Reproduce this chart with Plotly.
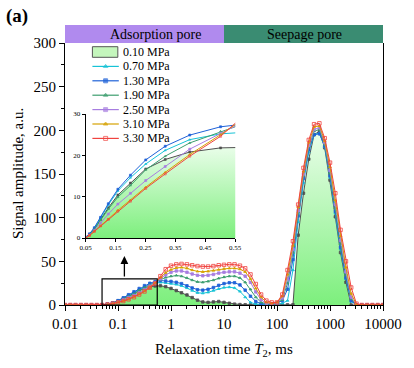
import math
import plotly.graph_objects as go

# ---------------- data ----------------
T2 = [0.01, 0.0126, 0.0158, 0.02, 0.0251, 0.0316, 0.0398, 0.0501, 0.0631, 0.0794,
      0.1, 0.126, 0.158, 0.2, 0.251, 0.316, 0.398, 0.501, 0.631, 0.794,
      1, 1.26, 1.58, 2, 2.51, 3.16, 3.98, 5.01, 6.31, 7.94,
      10, 12.6, 15.8, 20, 25.1, 31.6, 39.8, 50.1, 63.1, 79.4,
      100, 126, 158, 200, 251, 316, 398, 501, 631, 794,
      1000, 1260, 1580, 2000, 2510, 3160, 3980, 5010, 6310, 7940,
      10000]

p010 = [0, 0, 0, 0, 0, 0, 0,
        0, 0.9, 2.2, 4.5, 7.3, 10.4, 13.3, 16.7, 19.0, 20.8, 21.8,
        22.0, 21.0, 19.0, 16.5, 14.0, 11.5, 8.5, 5.5, 3.5, 3.0,
        3.5, 4.0, 3.0, 2.0, 1.0, 0.5, 0.3, 0.2, 0.2, 0.2,
        0.2, 0.2, 0.2, 0.2, 0.2, 0.3, 80, 128, 167, 195,
        199, 180, 143, 101, 60, 26, 0, 0, 0, 0, 0, 0, 0]
p070 = [0, 0, 0, 0, 0, 0, 0,
        0.1, 0.9, 2.4, 4.8, 8.0, 11.4, 14.6, 17.9, 21.2, 23.8, 25.2,
        25.8, 25.3, 24.5, 23.5, 22.0, 19.5, 16.5, 14.0, 13.5, 14.5,
        16.5, 18.5, 20.0, 20.5, 19.5, 15.5, 9.0, 3.0, 1.0, 0.5,
        0.5, 0.5, 1.0, 2.0, 5.0, 40, 95, 140, 175, 195,
        197, 181, 146, 105, 64, 30, 4, 0, 0, 0, 0, 0, 0]
p130 = [0, 0, 0, 0, 0, 0, 0,
        0.2, 1.0, 2.5, 5.0, 8.3, 11.8, 15.2, 18.9, 22.2, 24.9, 26.9,
        28.0, 27.5, 27.0, 26.0, 24.5, 22.0, 19.5, 17.5, 17.0, 18.0,
        20.0, 22.5, 24.5, 25.5, 25.5, 23.0, 17.0, 10.0, 4.0, 1.5,
        1.0, 1.0, 2.0, 5.0, 18, 52, 102, 145, 178, 195,
        196, 182, 148, 107, 66, 31, 5, 0, 0, 0, 0, 0, 0]
p190 = [0, 0, 0, 0, 0, 0, 0,
        0, 0.8, 2.1, 4.3, 7.0, 9.9, 12.7, 16.5, 19.8, 23.0, 25.8,
        29.0, 31.5, 33.0, 33.8, 33.0, 31.0, 28.5, 26.5, 26.0, 27.0,
        28.5, 30.5, 32.0, 33.0, 33.0, 31.0, 26.0, 18.0, 9.0, 3.0,
        1.5, 1.0, 2.0, 6.0, 25, 60, 106, 148, 181, 199,
        201, 184, 151, 111, 70, 35, 7, 0, 0, 0, 0, 0, 0]
p250 = [0, 0, 0, 0, 0, 0, 0,
        0, 0.7, 1.8, 3.6, 5.8, 8.2, 10.8, 13.9, 17.3, 21.5, 25.3,
        30.0, 34.5, 37.5, 39.0, 39.0, 37.5, 35.5, 34.0, 33.5, 34.0,
        35.0, 36.5, 37.5, 38.0, 38.0, 36.5, 33.0, 26.0, 15.0, 6.0,
        2.0, 1.5, 2.5, 8.0, 30, 64, 108, 150, 183, 201,
        203, 186, 154, 115, 74, 38, 9, 0, 0, 0, 0, 0, 0]
p310 = [0, 0, 0, 0, 0, 0, 0,
        0, 0.6, 1.6, 2.9, 4.6, 6.7, 9.2, 12.3, 15.9, 20.2, 25.0,
        31.5, 37.0, 40.5, 42.5, 43.0, 42.0, 40.0, 38.5, 38.0, 38.5,
        39.5, 40.5, 41.5, 42.0, 42.0, 41.0, 38.0, 30.0, 19.0, 9.0,
        3.0, 2.0, 3.0, 10.0, 35, 68, 112, 153, 186, 204,
        205, 188, 158, 120, 79, 43, 13, 0.5, 0, 0, 0, 0, 0]
p330 = [0, 0, 0, 0, 0, 0, 0,
        0, 0.6, 1.6, 2.9, 4.5, 6.5, 8.9, 12.0, 15.5, 19.8, 24.6,
        33.0, 41.0, 45.0, 46.5, 47.0, 46.5, 45.5, 44.5, 44.0, 44.0,
        44.5, 45.5, 46.0, 46.5, 46.5, 45.0, 42.0, 35.0, 24.0, 12.0,
        5.0, 3.0, 3.0, 12.0, 40, 73, 115, 157, 189, 207,
        208, 191, 163, 128, 86, 50, 20, 1.5, 0, 0, 0, 0, 0]

names = ["0.10 MPa", "0.70 MPa", "1.30 MPa", "1.90 MPa", "2.50 MPa", "3.10 MPa", "3.30 MPa"]
series = [p010, p070, p130, p190, p250, p310, p330]
colors = ["#505050", "#17C3D6", "#1F62D8", "#3C9E6E", "#A77DE0", "#D6A100", "#F0433F"]
symbols = ["square", "triangle-up", "square", "triangle-up", "square", "triangle-up", "square-open"]

x_ticks = [0.01, 0.1, 1, 10, 100, 1000, 10000]
x_ticktext = ["0.01", "0.1", "1", "10", "100", "1000", "10000"]
inset_xticks = [0.05, 0.15, 0.25, 0.35, 0.45, 0.55]
inset_yticks = [0, 10, 20, 30]
inset_xrange = [0.05, 0.55]
inset_yrange = [0, 30]

FONT = "Liberation Serif"
W, H = 414, 368
L, R, T, B = 65, 24, 43, 63
PW, PH = W - L - R, H - T - B


def px_x(p):
    return (p - L) / PW


def px_y(p):
    return (H - B - p) / PH


fig = go.Figure()

green_scale = [[0, "#7DEF7D"], [1, "#F3FFF3"]]

# ---- main plot ----
for i, (nm, ys) in enumerate(zip(names, series)):
    kw = {}
    if i == 0:
        kw = dict(fill="tozeroy",
                  fillgradient=dict(type="vertical", colorscale=green_scale, start=0, stop=215))
    fig.add_trace(go.Scatter(
        x=T2, y=ys, mode="lines+markers", name=nm, showlegend=False,
        line=dict(color=colors[i], width=1),
        marker=dict(color=colors[i], size=2.5 if i < 6 else 3.5, symbol=symbols[i],
                    line=dict(color=colors[i], width=0.8)),
        xaxis="x", yaxis="y", **kw))

# zoom rectangle (based on inset ranges)
fig.add_trace(go.Scatter(
    x=[inset_xrange[0], inset_xrange[1], inset_xrange[1], inset_xrange[0], inset_xrange[0]],
    y=[inset_yrange[0], inset_yrange[0], inset_yrange[1], inset_yrange[1], inset_yrange[0]],
    mode="lines", line=dict(color="black", width=1.2), showlegend=False, hoverinfo="skip",
    xaxis="x", yaxis="y"))

# ---- inset ----
for i, (nm, ys) in enumerate(zip(names, series)):
    kw = {}
    if i == 0:
        kw = dict(fill="tozeroy",
                  fillgradient=dict(type="vertical", colorscale=green_scale, start=0, stop=24))
    fig.add_trace(go.Scatter(
        x=T2, y=ys, mode="lines+markers", showlegend=False,
        line=dict(color=colors[i], width=1),
        marker=dict(color=colors[i], size=2, symbol=symbols[i],
                    line=dict(color=colors[i], width=0.6)),
        xaxis="x2", yaxis="y2", **kw))

# ---- manual legend (pixel-space overlay axis) ----
leg_y0, leg_dy = 52, 14.4
gx0, gx1, tx = 93, 120, 122
shapes = []
annotations = []
for i, nm in enumerate(names):
    cy = leg_y0 + i * leg_dy
    if i == 0:
        shapes.append(dict(type="rect", xref="x3", yref="y3", x0=gx0, x1=gx1 - 1,
                           y0=cy - 5.3, y1=cy + 5.3, fillcolor="#C4F6BC",
                           line=dict(color="#555555", width=1)))
    else:
        fig.add_trace(go.Scatter(
            x=[gx0, (gx0 + gx1) / 2, gx1], y=[cy, cy, cy], mode="lines+markers",
            line=dict(color=colors[i], width=1.2),
            marker=dict(color=colors[i], size=[0, 4, 0], symbol=symbols[i],
                        line=dict(color=colors[i], width=1)),
            showlegend=False, hoverinfo="skip", xaxis="x3", yaxis="y3"))
    annotations.append(dict(xref="x3", yref="y3", x=tx, y=cy, text=nm, showarrow=False,
                            xanchor="left", yanchor="middle",
                            font=dict(family=FONT, size=12, color="black")))

# top bands
band_top = 1 + (43 - 25) / PH
shapes.append(dict(type="rect", xref="paper", yref="paper", x0=0, x1=0.5, y0=1, y1=band_top,
                   fillcolor="#B08AEE", line=dict(width=0), layer="above"))
shapes.append(dict(type="rect", xref="paper", yref="paper", x0=0.5, x1=1, y0=1, y1=band_top,
                   fillcolor="#3A8C72", line=dict(width=0), layer="above"))
annotations.append(dict(xref="paper", yref="paper", x=px_x(158), y=(1 + band_top) / 2,
                        text="Adsorption pore", showarrow=False, xanchor="center", yanchor="middle",
                        font=dict(family=FONT, size=14, color="black")))
annotations.append(dict(xref="paper", yref="paper", x=px_x(310), y=(1 + band_top) / 2,
                        text="Seepage pore", showarrow=False, xanchor="center", yanchor="middle",
                        font=dict(family=FONT, size=14, color="black")))
# panel label
annotations.append(dict(xref="paper", yref="paper", x=px_x(3), y=px_y(16), text="<b>(a)</b>",
                        showarrow=False, xanchor="left", yanchor="middle",
                        font=dict(family=FONT, size=19, color="black")))
# axis titles
annotations.append(dict(xref="paper", yref="paper", x=px_x(17), y=0.5,
                        text="Signal amplitude, a.u.", textangle=-90, showarrow=False,
                        xanchor="center", yanchor="middle",
                        font=dict(family=FONT, size=15, color="black")))
annotations.append(dict(xref="paper", yref="paper", x=0.5, y=px_y(350),
                        text="Relaxation time <i>T</i><sub>2</sub>, ms", showarrow=False,
                        xanchor="center", yanchor="middle",
                        font=dict(family=FONT, size=15, color="black")))
# arrow from rectangle to inset
annotations.append(dict(xref="x", yref="y", x=math.log10(0.132), y=56, ax=0, ay=22,
                        text="", showarrow=True, arrowhead=2, arrowsize=1.2, arrowwidth=1.3,
                        arrowcolor="black"))

minor_x = [m * 10 ** e for e in range(-2, 4) for m in range(2, 10)]

axis_common = dict(showgrid=False, zeroline=False, showline=True, linecolor="black",
                   linewidth=1, ticks="outside", tickcolor="black",
                   tickfont=dict(family=FONT, size=15, color="black"))

fig.update_layout(
    width=W, height=H, autosize=False, margin=dict(l=L, r=R, t=T, b=B),
    paper_bgcolor="white", plot_bgcolor="rgba(0,0,0,0)",
    font=dict(family=FONT, color="black"),
    showlegend=False, shapes=shapes, annotations=annotations,
    xaxis=dict(type="log", range=[-2, 4], tickvals=x_ticks, ticktext=x_ticktext,
               ticklen=5, anchor="y",
               minor=dict(tickvals=minor_x, ticks="outside", ticklen=3, tickcolor="black"),
               **axis_common),
    yaxis=dict(range=[0, 300], dtick=50, ticklen=5, mirror=True, anchor="x",
               minor=dict(dtick=25, ticks="outside", ticklen=3, tickcolor="black"),
               **axis_common),
    xaxis2=dict(domain=[px_x(86), px_x(239)], anchor="y2", range=inset_xrange,
                tickvals=inset_xticks, ticktext=[f"{v:.2f}" for v in inset_xticks],
                showgrid=False, zeroline=False, showline=True, linecolor="black", linewidth=1,
                ticks="outside", ticklen=3, tickcolor="black",
                tickfont=dict(family=FONT, size=7, color="black")),
    yaxis2=dict(domain=[px_y(238), px_y(114)], anchor="x2", range=inset_yrange,
                tickvals=inset_yticks,
                showgrid=False, zeroline=False, showline=True, linecolor="black", linewidth=1,
                ticks="outside", ticklen=3, tickcolor="black",
                tickfont=dict(family=FONT, size=7, color="black")),
    xaxis3=dict(domain=[0, 1], range=[L, W - R], visible=False, anchor="y3", fixedrange=True),
    yaxis3=dict(domain=[0, 1], range=[H - B, T], visible=False, anchor="x3", fixedrange=True),
)

fig.write_html("out.html", config={"displayModeBar": False, "responsive": False},
               post_script="document.body.style.margin='0px';"
                           "document.body.style.overflow='hidden';")
